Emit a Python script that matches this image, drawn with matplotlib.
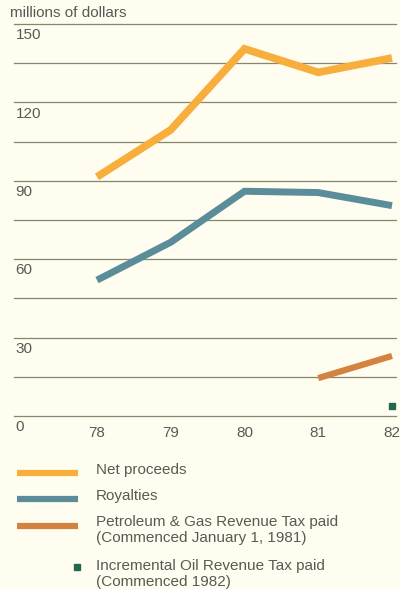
import matplotlib
matplotlib.use("Agg")
import matplotlib.pyplot as plt
from matplotlib.lines import Line2D

years = [78, 79, 80, 81, 82]
year_labels = ["78", "79", "80", "81", "82"]
net_proceeds = [91.5, 109.5, 140.5, 131.5, 137.0]
royalties = [52.0, 66.5, 86.0, 85.5, 80.5]
pg_tax_years = [81, 82]
pg_tax = [14.5, 23.0]
iort_years = [82]
iort = [4.0]
yticks = [0, 30, 60, 90, 120, 150]
grid_values = [0, 15, 30, 45, 60, 75, 90, 105, 120, 135, 150]

legend_labels = ["Net proceeds", "Royalties",
                 "Petroleum & Gas Revenue Tax paid\n(Commenced January 1, 1981)",
                 "Incremental Oil Revenue Tax paid\n(Commenced 1982)"]

c_net = "#F8AE3C"
c_roy = "#5B8C9A"
c_pg = "#D4823F"
c_io = "#1E6A4C"
bg = "#FEFDF0"
grid_c = "#86866C"
txt_c = "#5A5A55"
FS = 11

plt.rcParams['font.family'] = ['Liberation Sans', 'DejaVu Sans']

W, H = 400, 589
fig = plt.figure(figsize=(W / 100, H / 100), dpi=100, facecolor=bg)
ax_left = 14
ax = fig.add_axes([ax_left / W, (H - 416) / H, (396 - ax_left) / W, (416 - 24) / H])
ax.set_facecolor(bg)
x0 = 78 - (97 - ax_left) / 73.75
x1 = 82 + 4 / 73.75
ax.set_xlim(x0, x1)
ax.set_ylim(0, 150)
for s in ax.spines.values():
    s.set_visible(False)

for g in grid_values:
    ax.axhline(g, color=grid_c, lw=0.9, zorder=1, clip_on=False)

ax.plot(years, net_proceeds, color=c_net, lw=5.5, solid_joinstyle='miter',
        solid_capstyle='butt', zorder=3, clip_on=False)
ax.plot(years, royalties, color=c_roy, lw=5.0, solid_joinstyle='miter',
        solid_capstyle='butt', zorder=3, clip_on=False)
ax.plot(pg_tax_years, pg_tax, color=c_pg, lw=4.5, solid_capstyle='butt',
        zorder=3, clip_on=False)
ax.plot(iort_years, iort, marker='s', color=c_io, ms=5, lw=0, zorder=3,
        clip_on=False)

ax.set_xticks(years)
ax.set_xticklabels(year_labels, fontsize=FS, color=txt_c)
ax.tick_params(axis='x', length=0, pad=7)
ax.set_yticks([])
for v in yticks:
    ax.annotate(str(v), xy=(x0, v), xytext=(1, -3), textcoords='offset points',
                ha='left', va='top', fontsize=FS, color=txt_c)

fig.text(10 / W, 1 - 13 / H, "millions of dollars", fontsize=FS, color=txt_c,
         ha='left', va='center')

# legend
leg_y = [473, 499, 526]
leg_colors = [c_net, c_roy, c_pg]
for yy, cc in zip(leg_y, leg_colors):
    fig.add_artist(Line2D([17 / W, 78 / W], [1 - yy / H, 1 - yy / H],
                          color=cc, lw=4.5, solid_capstyle='butt',
                          transform=fig.transFigure))
fig.add_artist(Line2D([77 / W], [1 - 567 / H], marker='s', ms=4, color=c_io,
                      lw=0, transform=fig.transFigure))
text_y = [470, 496, 530, 574]
for ty, lab in zip(text_y, legend_labels):
    fig.text(96 / W, 1 - ty / H, lab, fontsize=FS, color=txt_c, ha='left',
             va='center', linespacing=1.12)

fig.savefig("out.png", dpi=100, facecolor=bg)
